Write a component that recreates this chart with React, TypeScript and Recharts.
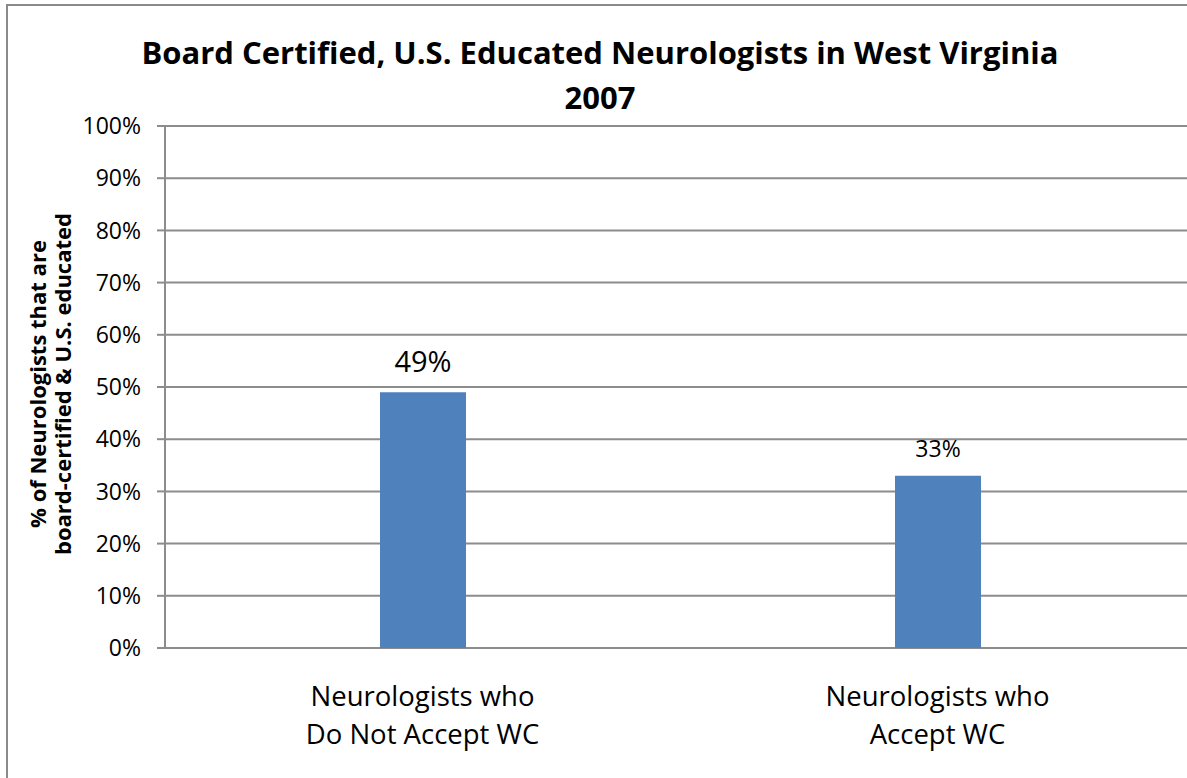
import React from 'react';
import { BarChart, Bar, XAxis, YAxis, CartesianGrid, LabelList } from 'recharts';

// Chart data
const categories = ['Neurologists who|Do Not Accept WC', 'Neurologists who|Accept WC'];
const values = [49, 33];
const labelSizes = [29, 23];
const yTicks = [0, 10, 20, 30, 40, 50, 60, 70, 80, 90, 100];
const edgeTicks = [0, 1, 2];

const title = ['Board Certified, U.S. Educated Neurologists in West Virginia', '2007'];
const yTitle = ['% of Neurologists that are', 'board-certified & U.S. educated'];

const data = categories.map((name, i) => ({ name, value: values[i] }));

const FONT = '"Open Sans", sans-serif';
const GRID = '#8c8c8c';

// Two-line category labels under the bars
const CategoryTick = (props: any) => {
  const { x, y, payload } = props;
  const lines = String(payload.value).split('|');
  return (
    <g>
      {lines.map((line, i) => (
        <text
          key={i}
          x={x}
          y={y + 50 + i * 38}
          textAnchor="middle"
          fontFamily={FONT}
          fontSize={27.5}
          fill="#000"
        >
          {line}
        </text>
      ))}
    </g>
  );
};

// Value labels above bars, first one is bigger in the original
const ValueLabel = (props: any) => {
  const { x, y, width, value, index } = props;
  const size = labelSizes[index] ?? 23;
  return (
    <text
      x={x + width / 2}
      y={y - (index === 0 ? 20 : 19)}
      textAnchor="middle"
      fontFamily={FONT}
      fontSize={size}
      fill="#000"
    >
      {value}%
    </text>
  );
};

const App: React.FC = () => {
  return (
    <div
      style={{
        position: 'fixed',
        left: 0,
        top: 0,
        width: 1187,
        height: 778,
        overflow: 'hidden',
        background: '#fff',
      }}
    >
      {/* outer frame, cut off at right and bottom */}
      <div
        style={{
          position: 'absolute',
          left: 6,
          top: 4,
          width: 1400,
          height: 1000,
          border: '2px solid #8a8a8a',
        }}
      />

      {/* title */}
      <div
        style={{
          position: 'absolute',
          left: 0,
          top: 30,
          width: 1200,
          textAlign: 'center',
          fontFamily: FONT,
          fontWeight: 700,
          fontSize: 31,
          lineHeight: '45px',
          color: '#000',
        }}
      >
        <div>{title[0]}</div>
        <div>{title[1]}</div>
      </div>

      {/* y axis title */}
      <div
        style={{
          position: 'absolute',
          left: 50,
          top: 385,
          width: 0,
          height: 0,
        }}
      >
        <div
          style={{
            position: 'absolute',
            left: -250,
            top: -26,
            width: 500,
            transform: 'rotate(-90deg)',
            textAlign: 'center',
            fontFamily: FONT,
            fontWeight: 700,
            fontSize: 22,
            lineHeight: '25px',
            color: '#000',
          }}
        >
          <div>{yTitle[0]}</div>
          <div>{yTitle[1]}</div>
        </div>
      </div>

      <div style={{ position: 'absolute', left: 0, top: 0 }}>
        <BarChart
          width={1200}
          height={800}
          data={data}
          margin={{ top: 126, right: 5, bottom: 52, left: 85 }}
          barCategoryGap={0}
        >
          <CartesianGrid vertical={false} stroke={GRID} strokeWidth={2} />
          <XAxis
            xAxisId="edges"
            type="number"
            domain={[0, 2]}
            ticks={edgeTicks}
            allowDataOverflow
            height={0}
            axisLine={false}
            tick={false}
            tickSize={9}
            tickLine={{ stroke: GRID, strokeWidth: 2 }}
          />
          <XAxis
            dataKey="name"
            height={100}
            axisLine={false}
            tickLine={false}
            tick={<CategoryTick />}
            interval={0}
          />
          <YAxis
            width={80}
            domain={[0, 100]}
            ticks={yTicks}
            interval={0}
            tickFormatter={(v: number) => `${v}%`}
            tickSize={8}
            tickMargin={16}
            axisLine={{ stroke: GRID, strokeWidth: 2 }}
            tickLine={{ stroke: GRID, strokeWidth: 2 }}
            tick={{ fontFamily: FONT, fontSize: 23, fill: '#000' }}
          />
          <Bar dataKey="value" fill="#4F81BD" barSize={86} isAnimationActive={false}>
            <LabelList dataKey="value" content={<ValueLabel />} />
          </Bar>
        </BarChart>
      </div>
    </div>
  );
};

export default App;
